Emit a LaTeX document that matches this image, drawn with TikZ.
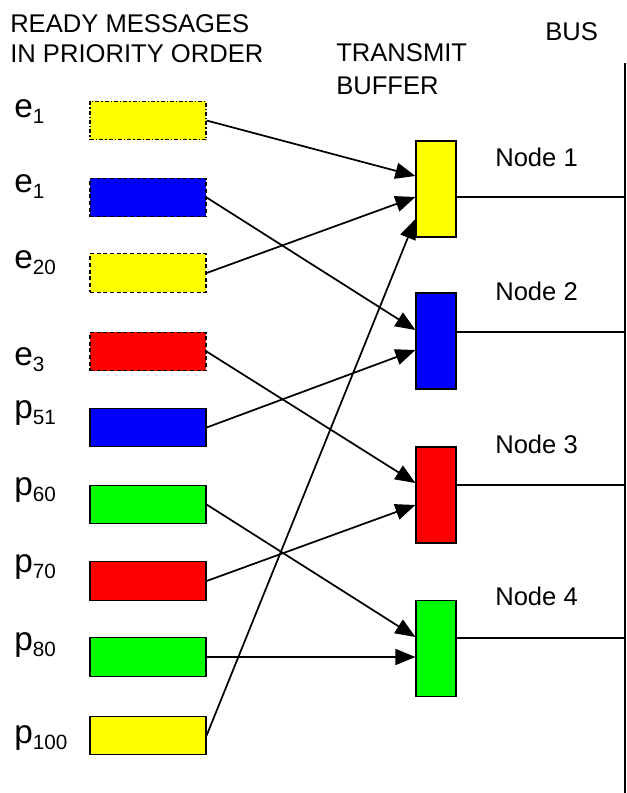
\documentclass[tikz,border=0pt]{standalone}
\usepackage{fontspec}
\setmainfont{Liberation Sans}
\usetikzlibrary{arrows.meta,calc}
\definecolor{msgyellow}{RGB}{255,255,0}
\definecolor{msgblue}{RGB}{0,0,255}
\definecolor{msgred}{RGB}{255,0,0}
\definecolor{msggreen}{RGB}{0,255,0}
% subscript used in the message labels
\newcommand\msub[1]{\raisebox{-5pt}{\fontsize{15.5}{15.5}\selectfont #1}}
\tikzset{
  msgbox/.style={draw=black, line width=0.9pt, minimum width=87pt, minimum height=29pt, inner sep=0pt},
  pending/.style={dash pattern=on 3pt off 2pt},
  pendingdot/.style={dash pattern=on 3pt off 1.5pt on 1pt off 1.5pt},
  bufbox/.style={draw=black, line width=0.9pt, minimum width=30pt, minimum height=72pt, inner sep=0pt},
  msglabel/.style={anchor=base west, inner sep=0pt, font=\fontsize{25}{25}\selectfont},
  heading/.style={anchor=base west, inner sep=0pt, font=\fontsize{19.2}{19.2}\selectfont},
  link/.style={line width=1.3pt, -{Triangle[length=15pt,width=12pt]}},
  tap/.style={line width=1.2pt},
}
\begin{document}
\begin{tikzpicture}[x=0.75pt,y=-0.75pt]
\useasboundingbox (0,0) rectangle (627,793);

% headings
\node[heading] (h1) at (10,32) {READY MESSAGES};
\node[heading] (h2) at (10,62) {IN PRIORITY ORDER};
\node[heading] (h3) at (336,61) {TRANSMIT};
\node[heading] (h4) at (336,94) {BUFFER};
\node[heading] (h5) at (545,40) {BUS};

% ready messages
\node[msgbox, pendingdot, fill=msgyellow] (m1) at (148,120.5) {};
\node[msgbox, pending, fill=msgblue]     (m2) at (148,197.5) {};
\node[msgbox, pending, fill=msgyellow]   (m3) at (148,273) {};
\node[msgbox, pending, fill=msgred]      (m4) at (148,351.5) {};
\node[msgbox, fill=msgblue]   (m5) at (148,427.5) {};
\node[msgbox, fill=msggreen]  (m6) at (148,504.5) {};
\node[msgbox, fill=msgred]    (m7) at (148,581) {};
\node[msgbox, fill=msggreen]  (m8) at (148,657) {};
\node[msgbox, fill=msgyellow] (m9) at (148,735.5) {};

% message labels
\node[msglabel] (l1) at (14,117) {e\msub{1}};
\node[msglabel] (l2) at (14,192) {e\msub{1}};
\node[msglabel] (l3) at (14,268) {e\msub{20}};
\node[msglabel] (l4) at (14,365) {e\msub{3}};
\node[msglabel] (l5) at (14,418) {p\msub{51}};
\node[msglabel] (l6) at (14,495) {p\msub{60}};
\node[msglabel] (l7) at (14,572) {p\msub{70}};
\node[msglabel] (l8) at (14,650) {p\msub{80}};
\node[msglabel] (l9) at (14,743) {p\msub{100}};

% transmit buffers
\node[bufbox, fill=msgyellow] (n1) at (436,189) {};
\node[bufbox, fill=msgblue]   (n2) at (436,341) {};
\node[bufbox, fill=msgred]    (n3) at (436,495) {};
\node[bufbox, fill=msggreen]  (n4) at (436,648.5) {};

\node[heading] (t1) at (495,166) {Node 1};
\node[heading] (t2) at (495,300) {Node 2};
\node[heading] (t3) at (495,453) {Node 3};
\node[heading] (t4) at (495,605) {Node 4};

% bus and taps
\coordinate (bustop) at (625,63);
\coordinate (busbot) at (625,793);
\draw[line width=1.5pt] (bustop) -- (busbot);
\coordinate (b1) at (625,197);
\coordinate (b2) at (625,332);
\coordinate (b3) at (625,485);
\coordinate (b4) at (625,638);
\draw[tap] (n1.east |- b1) -- (b1);
\draw[tap] (n2.east |- b2) -- (b2);
\draw[tap] (n3.east |- b3) -- (b3);
\draw[tap] (n4.east |- b4) -- (b4);

% messages into the buffers
\draw[link] (m1.east) -- ($(n1.west)+(0,-13)$);
\draw[link] (m3.east) -- ($(n1.west)+(0,8)$);
\draw[link] (m9.east) -- ($(n1.west)+(0,30)$);
\draw[link] (m2.east) -- ($(n2.west)+(0,-11)$);
\draw[link] (m5.east) -- ($(n2.west)+(0,9)$);
\draw[link] (m4.east) -- ($(n3.west)+(0,-12)$);
\draw[link] (m7.east) -- ($(n3.west)+(0,10)$);
\draw[link] (m6.east) -- ($(n4.west)+(0,-11.5)$);
\draw[link] (m8.east) -- (n4.west |- m8.east);
\end{tikzpicture}
\end{document}
